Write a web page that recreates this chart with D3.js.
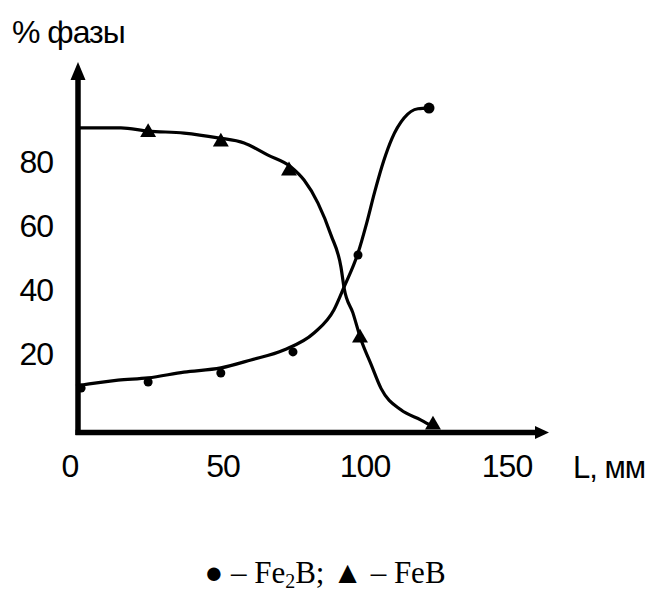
<!DOCTYPE html>
<html><head><meta charset="utf-8">
<script src="https://cdn.jsdelivr.net/npm/d3@7"></script>
<style>
html,body{margin:0;padding:0;background:#fff;}
svg{display:block;}
</style></head>
<body>
<script>
// ---- data ----
const xTicks = [0, 50, 100, 150];
const yTicks = [20, 40, 60, 80];
const yTitle = "% фазы";
const xTitle = "L, мм";
// FeB (triangles) markers: [L mm, %]
const febMarkers = [[25.4, 93.0], [51, 90.0], [75, 81.0], [100, 28.8], [125.7, 1.6]];
// Fe2B (dots) markers
const fe2bMarkers = [[1.8, 13.1], [25.4, 15.0], [51, 17.8], [76.4, 24.4], [99.3, 54.7], [124.3, 100.6]];
// traced curves
const febCurve = [[0, 94.4], [15.8, 94.4], [25.4, 93.4], [38, 92.8], [50, 91.3], [59.2, 89.7], [67.6, 85.9],
  [75.7, 82.2], [80.3, 78.1], [85.2, 70.9], [89.8, 60.9], [93.3, 50.9], [94.4, 44.4], [97.5, 36.6],
  [100.4, 28.1], [103.9, 20.5], [107.4, 13.0], [114.4, 6.3], [121.5, 3.1], [126, 0.9]];
const fe2bCurve = [[0, 13.75], [14.8, 15.6], [25.4, 16.3], [38, 18.1], [51, 19.4], [61.6, 21.9], [73.2, 25.0],
  [83.8, 30.3], [90.8, 37.5], [94.4, 44.7], [99.3, 55.3], [102.3, 64.5], [105.2, 74.5], [108.3, 84.0],
  [111.2, 91.0], [115.5, 97.5], [120.4, 100.4], [124.3, 100.6]];

const W = 654, H = 596;
const svg = d3.select("body").append("svg").attr("width", W).attr("height", H);

const x = d3.scaleLinear().domain([0, 150]).range([76, 502]);
const y = d3.scaleLinear().domain([0, 100]).range([430, 110]);

const font = "'Liberation Sans', Arial, sans-serif";

// axes
const axX = 78, axY = 432.5;
svg.append("line").attr("x1", axX).attr("x2", axX).attr("y1", axY + 2.5).attr("y2", 80)
  .attr("stroke", "#000").attr("stroke-width", 5.5);
svg.append("path").attr("d", `M${axX},62 L${axX - 7.5},80 L${axX + 7.5},80 Z`).attr("fill", "#000");
svg.append("line").attr("x1", axX - 2.5).attr("x2", 536).attr("y1", axY).attr("y2", axY)
  .attr("stroke", "#000").attr("stroke-width", 5.5);
svg.append("path").attr("d", `M549,${axY} L535,${axY - 6.5} L535,${axY + 6.5} Z`).attr("fill", "#000");

// tick labels
svg.selectAll("text.yt").data(yTicks).enter().append("text").attr("class", "yt")
  .attr("x", 53).attr("y", d => y(d) - 1).attr("text-anchor", "end")
  .attr("font-family", font).attr("font-size", 32).attr("letter-spacing", -1).text(d => d);
svg.selectAll("text.xt").data(xTicks).enter().append("text").attr("class", "xt")
  .attr("x", d => d === 0 ? x(d) - 6 : x(d) + 5).attr("y", 477).attr("text-anchor", "middle")
  .attr("font-family", font).attr("font-size", 32).attr("letter-spacing", -1).text(d => d);

svg.append("text").attr("x", 12).attr("y", 43).attr("font-family", font).attr("font-size", 32)
  .attr("letter-spacing", -1).text(yTitle);
svg.append("text").attr("x", 573).attr("y", 478).attr("font-family", font).attr("font-size", 31)
  .attr("letter-spacing", -1).text(xTitle);

// curves
const line = d3.line().x(d => x(d[0])).y(d => y(d[1])).curve(d3.curveMonotoneX);
svg.append("path").attr("d", line(febCurve)).attr("fill", "none").attr("stroke", "#000").attr("stroke-width", 3.2);
svg.append("path").attr("d", line(fe2bCurve)).attr("fill", "none").attr("stroke", "#000").attr("stroke-width", 3.2);

// markers
const tri = d3.symbol().type(d3.symbolTriangle).size(110);
svg.selectAll("path.feb").data(febMarkers).enter().append("path").attr("class", "feb")
  .attr("d", tri).attr("transform", d => `translate(${x(d[0])},${y(d[1])})`).attr("fill", "#000");
svg.selectAll("circle.fe2b").data(fe2bMarkers).enter().append("circle").attr("class", "fe2b")
  .attr("cx", d => x(d[0])).attr("cy", d => y(d[1])).attr("r", (d, i) => i === fe2bMarkers.length - 1 ? 5.5 : 4.5)
  .attr("fill", "#000");

// legend
const lg = svg.append("text").attr("x", 325).attr("y", 583).attr("text-anchor", "middle")
  .attr("font-family", "'Liberation Serif', 'Times New Roman', serif").attr("font-size", 31);
lg.append("tspan").text("● – Fe");
lg.append("tspan").attr("font-size", 20).attr("dy", 5).text("2");
lg.append("tspan").attr("dy", -5).text("B; ▲ – FeB");
</script>
</body></html>
